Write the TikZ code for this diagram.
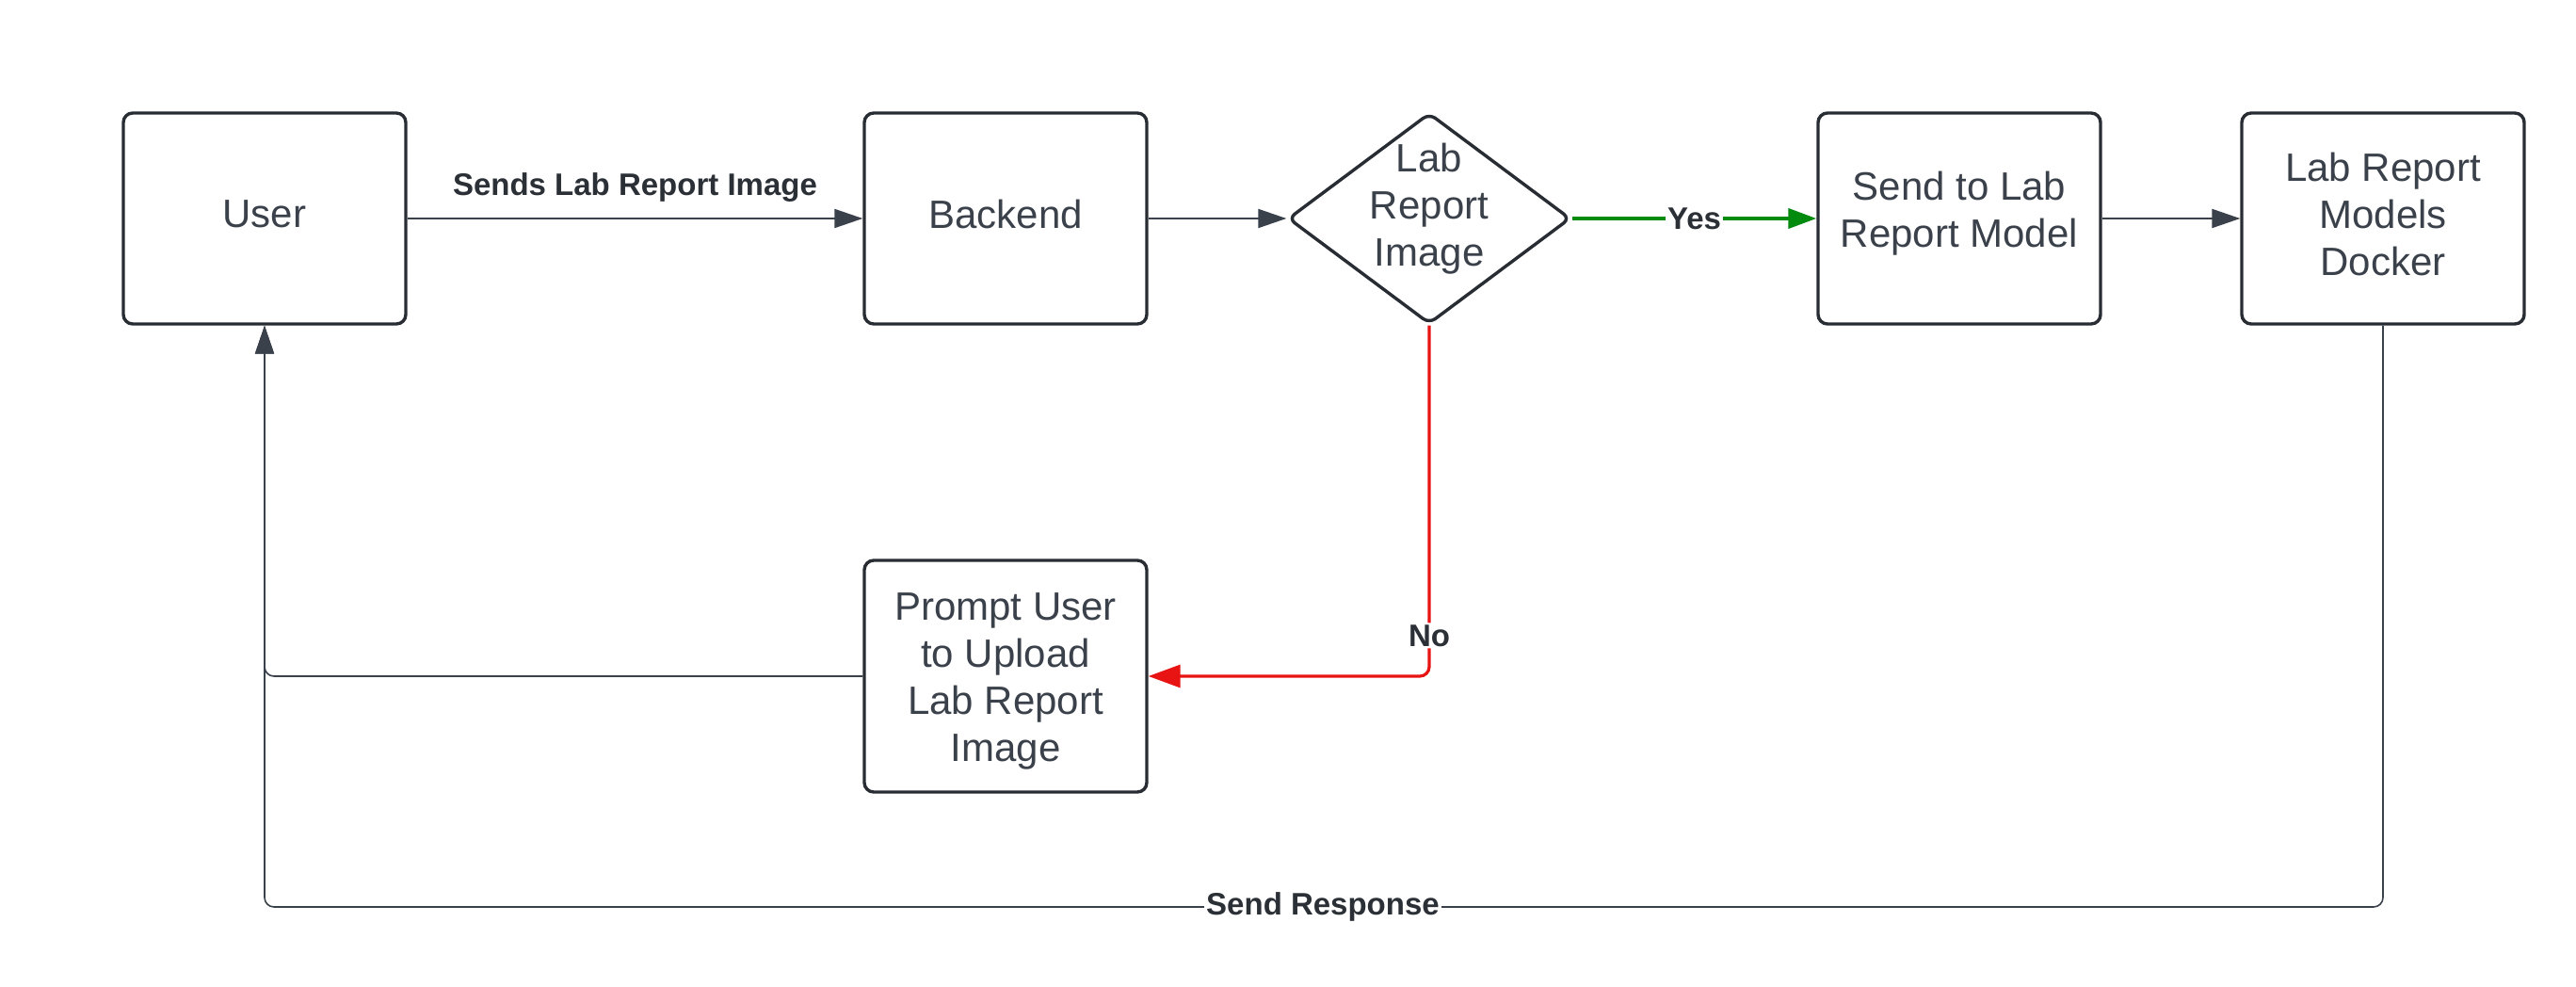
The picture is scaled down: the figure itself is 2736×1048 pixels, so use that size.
\documentclass[tikz,border=0pt]{standalone}
\usepackage{fontspec}
\setmainfont{Liberation Sans}
\usetikzlibrary{arrows.meta,shapes.geometric}
\definecolor{txtc}{HTML}{3A414A}
\definecolor{edgec}{HTML}{282C33}
\definecolor{lblc}{HTML}{2B2F36}
\definecolor{yesc}{HTML}{008A0E}
\definecolor{noc}{HTML}{E81313}
\tikzset{
  box/.style={draw=edgec, line width=1.7pt, rounded corners=5pt, fill=white,
    minimum width=150pt, minimum height=112pt, inner sep=0pt},
  decision/.style={diamond, draw=edgec, line width=1.7pt, rounded corners=4pt, fill=white,
    minimum width=150pt, minimum height=112pt, inner sep=0pt},
  txt/.style={text=txtc, align=center, font=\fontsize{21}{25}\selectfont, inner sep=0pt},
  lbl/.style={text=lblc, font=\fontsize{16.5}{20}\selectfont\bfseries, inner sep=1pt},
  tip/.style={-{Triangle[length=15pt,width=10pt]}},
  conn/.style={draw=txtc, line width=1pt, tip},
  back/.style={draw=txtc, line width=0.8pt, rounded corners=5pt, tip},
}
\begin{document}
\begin{tikzpicture}[x=0.5pt, y=-0.5pt]
\useasboundingbox[fill=white] (0,0) rectangle (2736,1048);

\node[box] (user) at (281,232) {};
\node[txt, yshift=2.5pt] (usertext) at (user) {User};
\node[box] (backend) at (1068,232) {};
\node[txt, yshift=2.5pt] (backendtext) at (backend) {Backend};
\node[decision] (dec) at (1518,232) {};
\node[txt, yshift=5pt] (dectext) at (dec) {Lab\\Report\\Image};
\node[box] (send) at (2081,232) {};
\node[txt, yshift=2.5pt] (sendtext) at (send) {Send to Lab\\Report Model};
\node[box] (docker) at (2531,232) {};
\node[txt, yshift=2.5pt] (dockertext) at (docker) {Lab Report\\Models\\Docker};
\node[box, minimum height=123pt] (prompt) at (1068,718) {};
\node[txt, yshift=-2.5pt] (prompttext) at (prompt) {Prompt User\\to Upload\\Lab Report\\Image};

\draw[conn] (user) -- node[lbl, yshift=16.5pt] (l1) {Sends Lab Report Image} (backend);
\draw[conn] (backend) -- (dec);
\draw[draw=yesc, line width=2pt, -{Triangle[length=15pt,width=10.5pt]}] (dec) -- node[lbl, fill=white] (lyes) {Yes} (send);
\draw[conn] (send) -- (docker);
\draw[draw=noc, line width=1.6pt, rounded corners=5pt, -{Triangle[length=17pt,width=12pt]}]
  (dec.south) |- node[lbl, fill=white, pos=0.442] (lno) {No} (prompt.east);
\draw[back] (prompt.west) -| (user.south);
\coordinate (bl) at (1405,963);
\draw[back] (docker.south) |- (bl) node[lbl, fill=white] (lsr) {Send Response} -| (user.south);
\end{tikzpicture}
\end{document}
